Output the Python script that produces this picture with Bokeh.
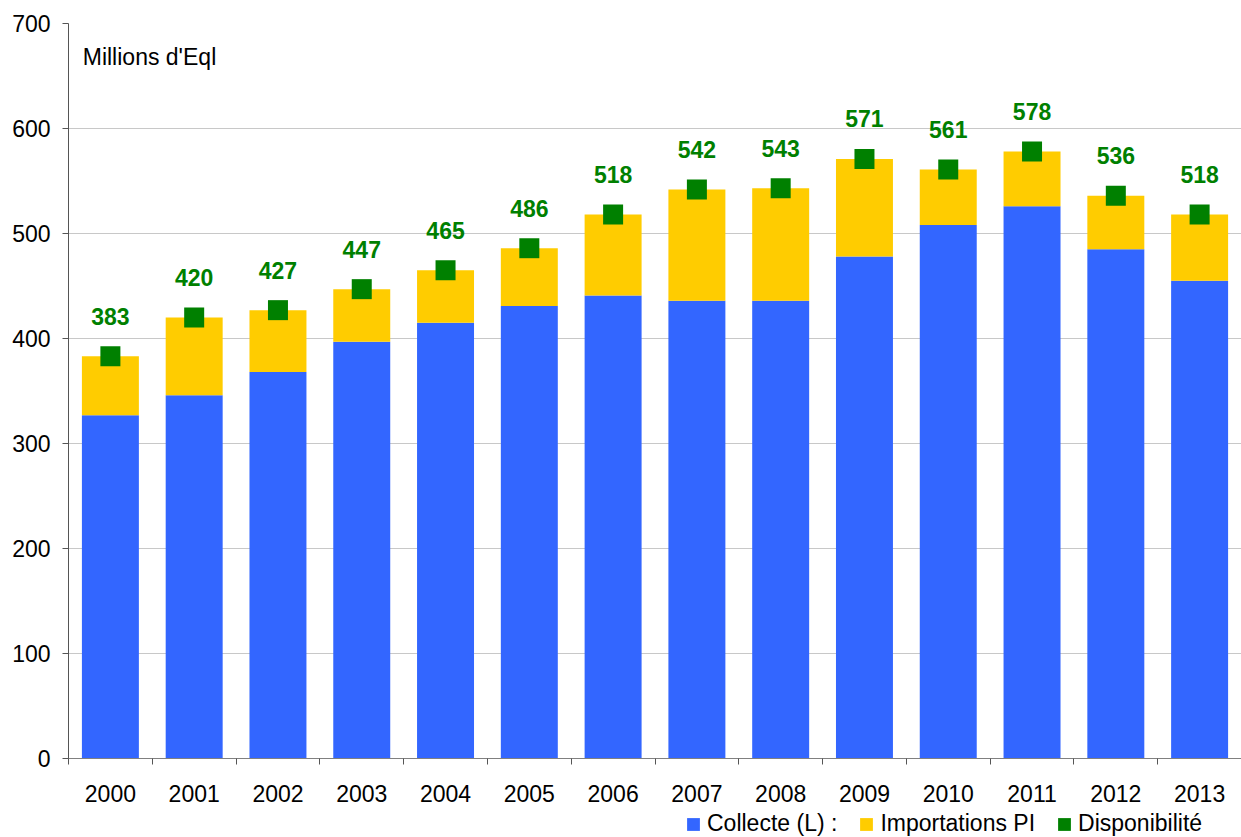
from bokeh.plotting import figure
from bokeh.layouts import column
from bokeh.models import ColumnDataSource, FixedTicker, Legend, LegendItem, Label, Range1d
from bokeh.embed import file_html
from bokeh.resources import INLINE
from bokeh.core.properties import value
import numpy as np

years = ["2000", "2001", "2002", "2003", "2004", "2005", "2006",
         "2007", "2008", "2009", "2010", "2011", "2012", "2013"]
collecte = [327, 346, 368, 397, 415, 431, 441, 436, 436, 478, 508, 526, 485, 455]
disponibilite = [383, 420, 427, 447, 465, 486, 518, 542, 543, 571, 561, 578, 536, 518]
importations = [d - c for d, c in zip(disponibilite, collecte)]
value_labels = [str(d) for d in disponibilite]
y_ticks = [0, 100, 200, 300, 400, 500, 600, 700]
series_names = ["Collecte (L) :", "Importations PI", "Disponibilité"]

FONT = "Liberation Sans"
BLUE = "#3366FF"
YELLOW = "#FFCC00"
GREEN = "#008000"

xpos = np.arange(len(years)) + 0.5
top_total = [c + i for c, i in zip(collecte, importations)]
src = ColumnDataSource(dict(x=xpos, collecte=collecte, total=top_total,
                            dispo=disponibilite, lab=value_labels))


def draw_series(fig):
    r1 = fig.vbar(x="x", bottom=0, top="collecte", width=0.68, fill_color=BLUE,
                  line_color=None, source=src)
    r2 = fig.vbar(x="x", bottom="collecte", top="total", width=0.68,
                  fill_color=YELLOW, line_color=None, source=src)
    r3 = fig.rect(x="x", y="dispo", width=20, height=20, width_units="screen",
                  height_units="screen", fill_color=GREEN, line_color=None,
                  source=src)
    return [r1, r2, r3]


LEG_H = 26
p = figure(width=1241, height=837 - LEG_H, x_range=Range1d(0, len(years)),
           y_range=Range1d(0, 700), output_backend="svg", toolbar_location=None,
           min_border_left=68, min_border_right=0, min_border_top=23,
           min_border_bottom=837 - LEG_H - 23 - 735)
p.outline_line_color = None
p.background_fill_color = "white"

draw_series(p)
p.text(x="x", y="dispo", text="lab", text_align="center", text_baseline="middle",
       y_offset=-40, text_font=value(FONT), text_font_style="bold",
       text_font_size="23px", text_color=GREEN, source=src)

p.add_layout(Label(x=0.17, y=668, text="Millions d'Eql", text_font=FONT,
                   text_font_size="23px", text_color="#000000",
                   text_baseline="middle"))

# axes
p.xaxis.ticker = FixedTicker(ticks=list(xpos), minor_ticks=list(range(len(years) + 1)))
p.xaxis.major_label_overrides = {float(xv): yr for xv, yr in zip(xpos, years)}
p.xaxis.major_tick_out = 0
p.xaxis.major_tick_in = 0
p.xaxis.minor_tick_out = 6
p.xaxis.minor_tick_in = 0
p.xaxis.minor_tick_line_color = "#555555"
p.xaxis.axis_line_color = "#808080"
p.xaxis.major_label_text_font = FONT
p.xaxis.major_label_text_font_size = "23px"
p.xaxis.major_label_text_color = "#000000"
p.xaxis.major_label_standoff = 20

p.yaxis.ticker = FixedTicker(ticks=y_ticks, minor_ticks=[])
p.yaxis.major_tick_out = 6
p.yaxis.major_tick_in = 0
p.yaxis.major_tick_line_color = "#555555"
p.yaxis.axis_line_color = "#555555"
p.yaxis.major_label_text_font = FONT
p.yaxis.major_label_text_font_size = "23px"
p.yaxis.major_label_text_color = "#000000"
p.yaxis.major_label_standoff = 12

p.xgrid.visible = False
p.ygrid.grid_line_color = "#c8c8c8"

# legend strip below the chart (same series; its view window lies above all data)
lf = figure(width=1241, height=LEG_H, x_range=Range1d(0, len(years)),
            y_range=Range1d(5000, 5010), output_backend="svg",
            toolbar_location=None, x_axis_type=None, y_axis_type=None,
            min_border_left=68, min_border_right=0,
            min_border_top=0, min_border_bottom=0)
lf.outline_line_color = None
lf.xgrid.visible = False
lf.ygrid.visible = False
sw = draw_series(lf)
legend = Legend(items=[LegendItem(label=n, renderers=[r]) for n, r in zip(series_names, sw)],
                orientation="horizontal", location=(617, 0),
                label_text_font=FONT, label_text_font_size="23px",
                label_text_color="#000000",
                glyph_width=16, glyph_height=16, spacing=21, label_standoff=6,
                padding=0, margin=0, border_line_color=None,
                background_fill_alpha=0)
lf.add_layout(legend, "center")

open("out.html", "w").write(file_html(column(p, lf, spacing=0), INLINE))
